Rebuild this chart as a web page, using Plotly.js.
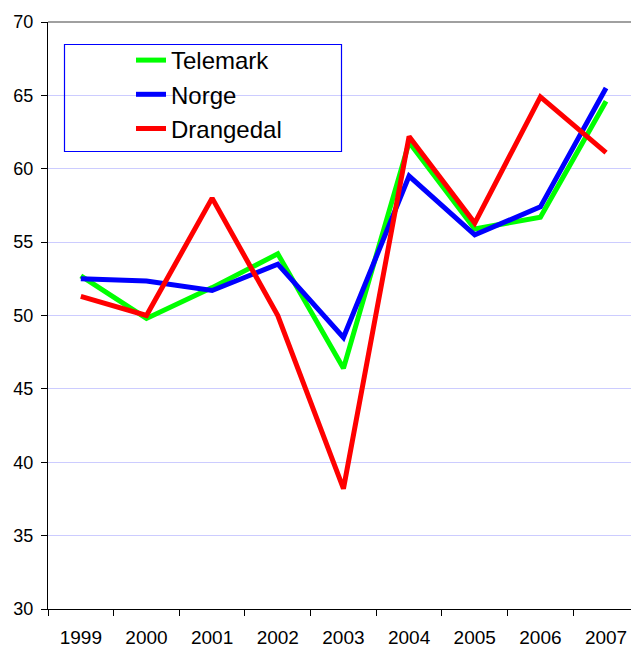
<!DOCTYPE html>
<html>
<head>
<meta charset="utf-8">
<script src="https://cdn.plot.ly/plotly-3.0.1.min.js"></script>
<style>html,body{margin:0;padding:0;background:#fff;}</style>
</head>
<body>
<div id="chart" style="width:631px;height:648px;"></div>
<script>
const years = ["1999","2000","2001","2002","2003","2004","2005","2006","2007"];
const telemark = [52.7, 49.8, 51.9, 54.2, 46.4, 61.8, 55.9, 56.7, 64.6];
const norge = [52.5, 52.35, 51.7, 53.5, 48.5, 59.5, 55.5, 57.4, 65.5];
const drangedal = [51.3, 50.0, 58.0, 50.0, 38.2, 62.2, 56.3, 64.9, 61.1];

const mk = (name, y, color) => ({
  type: 'scatter', mode: 'lines', name: name, x: years, y: y,
  line: {color: color, width: 5, shape: 'linear'},
  hoverinfo: 'skip'
});

const data = [
  mk('Telemark', telemark, '#00ff00'),
  mk('Norge', norge, '#0000ff'),
  mk('Drangedal', drangedal, '#ff0000')
];

// plot area: x 48..631, y 22..609 (px)
const pxX = px => (px - 48) / 583;
const pxY = py => (609 - py) / 587;

const layout = {
  width: 631, height: 648,
  margin: {l: 48, r: 0, t: 22, b: 39, pad: 0},
  paper_bgcolor: '#ffffff', plot_bgcolor: '#ffffff',
  font: {family: 'Liberation Sans, Arial, sans-serif', size: 19, color: '#000'},
  showlegend: true,
  legend: {
    x: pxX(64), y: pxY(38), xanchor: 'left', yanchor: 'top',
    bgcolor: 'rgba(0,0,0,0)', borderwidth: 0,
    font: {size: 24, color: '#000'},
    indentation: 67,
    traceorder: 'normal'
  },
  xaxis: {
    type: 'category', range: [-0.5, 8.38],
    showgrid: false, zeroline: false,
    showline: true, linecolor: '#000', linewidth: 1,
    ticks: 'outside', ticklen: 6, tickcolor: '#000', tickson: 'boundaries',
    tickfont: {size: 19}, ticklabelstandoff: 11, fixedrange: true
  },
  yaxis: {
    range: [30, 70], dtick: 5, tick0: 30,
    showgrid: true, gridcolor: '#ccccff', gridwidth: 1,
    zeroline: false, showline: true, linecolor: '#000', linewidth: 1,
    ticks: 'outside', ticklen: 6, tickcolor: '#000',
    tickfont: {size: 18}, ticklabelstandoff: 4, fixedrange: true
  },
  shapes: [
    {
      type: 'line', xref: 'paper', yref: 'paper', x0: 0, x1: 1, y0: 1, y1: 1,
      line: {color: '#808080', width: 1.5}
    },
    {
      type: 'rect', xref: 'paper', yref: 'paper', layer: 'above',
      x0: pxX(64.5), x1: pxX(341.5), y0: pxY(151.5), y1: pxY(44.5),
      line: {color: '#0000ff', width: 1.2}, fillcolor: 'rgba(0,0,0,0)'
    }
  ]
};

Plotly.newPlot('chart', data, layout, {displayModeBar: false, staticPlot: true});
</script>
</body>
</html>
